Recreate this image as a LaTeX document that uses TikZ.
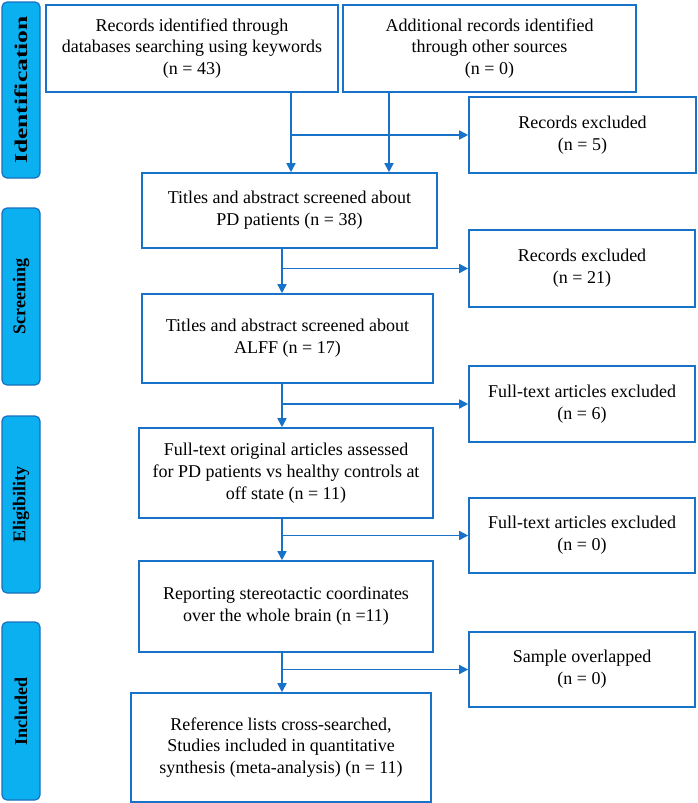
\documentclass[tikz,border=0pt]{standalone}
\usepackage{fontspec}
\setmainfont{Liberation Serif}
\usetikzlibrary{arrows.meta}
\definecolor{lineblue}{RGB}{24,114,200}
\definecolor{phasefill}{RGB}{10,176,240}
\definecolor{phasedraw}{RGB}{26,112,192}
\tikzset{
  box/.style={draw=lineblue, line width=1.6pt, fill=white, align=center, inner sep=2pt,
    font=\fontsize{18}{21.7}\selectfont},
  phase/.style={draw=phasedraw, line width=1.2pt, fill=phasefill, rounded corners=5pt,
    minimum width=38pt, rotate=90, font=\fontsize{18}{20}\selectfont\bfseries, text=black},
  arr/.style={draw=lineblue, line width=1.6pt, -{Triangle[length=9pt,width=9pt]}},
  ln/.style={draw=lineblue, line width=1.6pt}
}
\begin{document}
\begin{tikzpicture}[x=1pt,y=-1pt]
\useasboundingbox (0,0) rectangle (697,803);
% phases
\node[phase, minimum width=176pt, minimum height=38pt] (p1) at (21,90) {\scalebox{1.42}[1]{Identification}};
\node[phase, minimum width=177pt, minimum height=38pt] (p2) at (21,296.5) {Screening};
\node[phase, minimum width=177pt, minimum height=38pt] (p3) at (21,504.5) {Eligibility};
\node[phase, minimum width=178pt, minimum height=38pt] (p4) at (21,711) {Included};
% boxes
\node[box, minimum width=292pt, minimum height=87pt] (b1) at (192,48.5) {Records identified through\\databases searching using keywords\\(n = 43)};
\node[box, minimum width=293pt, minimum height=87pt] (b2) at (489.5,48.5) {Additional records identified\\through other sources\\(n = 0)};
\node[box, minimum width=227pt, minimum height=76pt] (e1) at (582.5,135) {Records excluded\\(n = 5)};
\node[box, minimum width=295pt, minimum height=75pt] (b3) at (289.5,210.5) {Titles and abstract screened about\\PD patients (n = 38)};
\node[box, minimum width=226pt, minimum height=77pt] (e2) at (582,268.5) {Records excluded\\(n = 21)};
\node[box, minimum width=291pt, minimum height=89pt] (b4) at (287.5,338.5) {Titles and abstract screened about\\ALFF (n = 17)};
\node[box, minimum width=226pt, minimum height=76pt] (e3) at (582,404) {Full-text articles excluded\\(n = 6)};
\node[box, minimum width=294pt, minimum height=90pt] (b5) at (286,473) {Full-text original articles assessed\\for PD patients vs healthy controls at\\off state (n = 11)};
\node[box, minimum width=226pt, minimum height=75pt] (e4) at (582,535.5) {Full-text articles excluded\\(n = 0)};
\node[box, minimum width=294pt, minimum height=91pt] (b6) at (286,606.5) {Reporting stereotactic coordinates\\over the whole brain (n =11)};
\node[box, minimum width=226pt, minimum height=75pt] (e5) at (582,669.5) {Sample overlapped\\(n = 0)};
\node[box, minimum width=300pt, minimum height=109pt] (b7) at (281,747.5) {Reference lists cross-searched,\\Studies included in quantitative\\synthesis (meta-analysis) (n = 11)};
% connector columns
\coordinate (c1) at (291,0);
\coordinate (c2) at (389,0);
\coordinate (c3) at (282,0);
% connectors
\draw[arr] (b1.south -| c1) -- (b3.north -| c1);
\draw[arr] (b2.south -| c2) -- (b3.north -| c2);
\draw[arr] (c1 |- e1.west) -- (e1.west);
\draw[arr] (b3.south -| c3) -- (b4.north -| c3);
\draw[arr] (c3 |- e2.west) -- (e2.west);
\draw[arr] (b4.south -| c3) -- (b5.north -| c3);
\draw[arr] (c3 |- e3.west) -- (e3.west);
\draw[arr] (b5.south -| c3) -- (b6.north -| c3);
\draw[arr] (c3 |- e4.west) -- (e4.west);
\draw[arr] (b6.south -| c3) -- (b7.north -| c3);
\draw[arr] (c3 |- e5.west) -- (e5.west);
\end{tikzpicture}
\end{document}
